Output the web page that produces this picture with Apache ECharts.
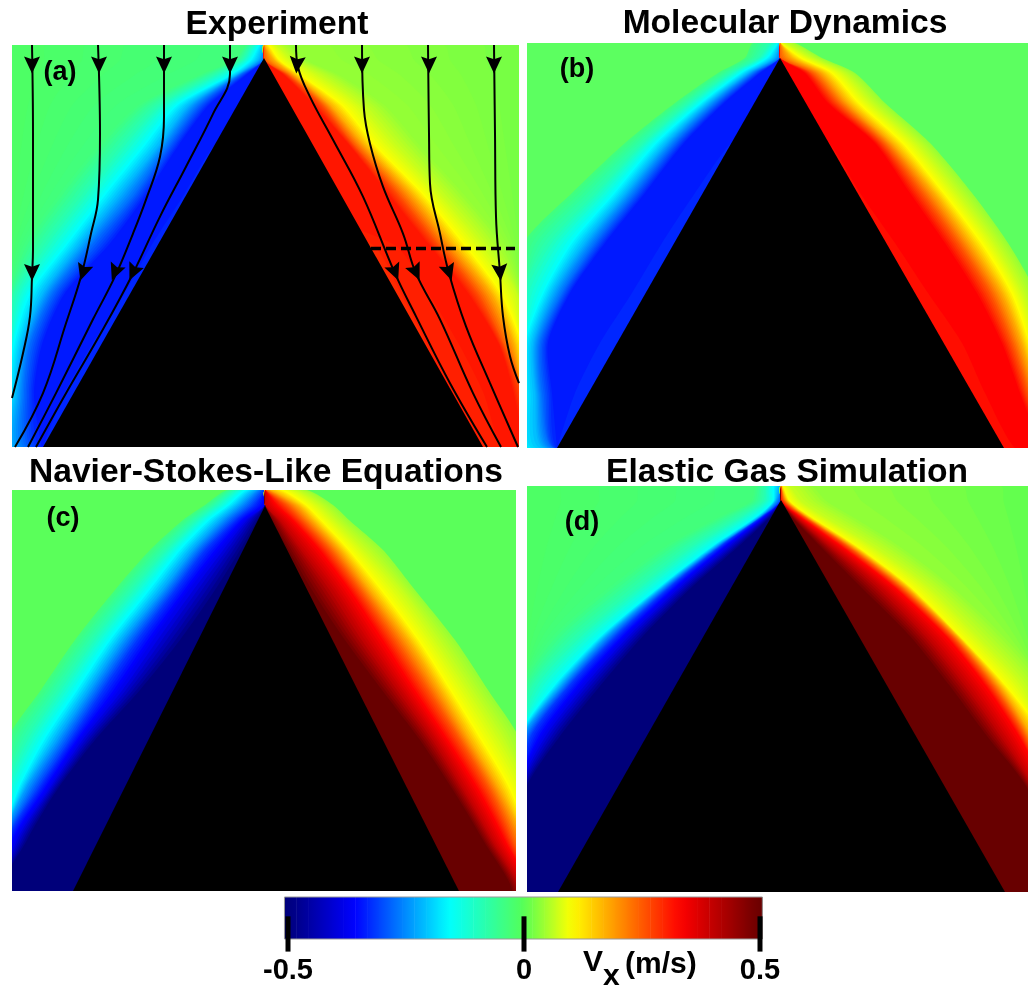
<!DOCTYPE html>
<html><head><meta charset="utf-8">
<script src="https://cdn.jsdelivr.net/npm/echarts@6/dist/echarts.min.js"></script>
<style>html,body{margin:0;padding:0;background:#fff}#c{width:1028px;height:985px}</style></head>
<body><div id="c"></div>
<script>
// rows below each panel's top at which the contour half-widths are read
const rows = [0,15,30,60,100,150,200,250,300,350,405];
// colour scale of Vx (m/s)
const scaleValues = [-0.5,-0.36,-0.16,0,0.1,0.33,0.5];
const scaleColors = ['#00007a','#0000ff','#00ffff','#55ff55','#ffff00','#ff0000','#680000'];
// contour levels: [Vx, distance from the wedge axis at each row, optional inner distance]
const aLeft = [
 [-0.015,[258,258,258,258,258,258,258,258,258,258,258]],
 [-0.04,[18,30,65,125,165,205,240,256,256,256,256]],
 [-0.09,[12,22,50,105,142,182,220,250,256,256,256]],
 [-0.16,[5,14,34,88,121,161,199,236,251,256,256]],
 [-0.22,[0,6,28,75,105,145,185,222,242,248,250]],
 [-0.28,[0,0,24,65,95,130,172,212,234,240,235]],
 [-0.34,[0,0,18,55,85,118,155,200,222,230,222],[0,0,0,0,49,80,112,140,172,200,222]]];
const aRight = [
 [0.02,[258,258,258,258,258,258,258,258,258,258,258]],
 [0.04,[25,42,75,120,155,200,240,258,258,258,258]],
 [0.07,[12,28,55,97,132,178,220,253,258,258,258]],
 [0.10,[5,16,37,79,112,161,202,239,258,258,258]],
 [0.18,[0,10,30,66,100,148,188,228,250,258,258]],
 [0.26,[0,0,24,58,90,135,175,215,240,258,258]],
 [0.31,[0,0,20,50,85,125,165,205,235,250,258],[0,0,0,0,0,0,130,165,195,220,238]]];
const bLeft = [
 [-0.04,[27,35,62,105,155,208,256,258,258,258,258]],
 [-0.09,[10,22,50,92,138,185,232,258,258,258,258]],
 [-0.16,[2,14,40,80,125,167,210,238,256,258,258]],
 [-0.22,[0,6,32,72,114,155,196,228,247,245,236]],
 [-0.28,[0,0,26,64,105,145,185,218,240,238,226]],
 [-0.34,[0,0,20,56,96,135,175,210,232,228,223],[0,0,0,0,49,85,118,148,180,205,223]]];
const bRight = [
 [0.04,[15,42,75,105,150,192,228,255,258,258,258]],
 [0.07,[5,32,64,92,137,178,215,243,258,258,258]],
 [0.10,[0,22,53,80,124,165,203,233,250,258,258]],
 [0.18,[0,12,42,68,112,154,190,222,242,255,258]],
 [0.26,[0,0,32,58,103,142,178,210,232,248,258]],
 [0.33,[0,0,25,48,95,130,165,197,222,240,258],[0,0,0,0,49,80,115,148,182,205,235]]];
const cLeft = [
 [-0.04,[38,60,82,115,150,190,224,258,262,262,262]],
 [-0.09,[30,50,70,100,134,173,207,240,262,262,262]],
 [-0.16,[20,38,58,87,118,157,190,223,248,262,262]],
 [-0.24,[8,25,43,72,102,142,175,208,240,262,262]],
 [-0.32,[0,12,30,60,90,128,162,195,228,258,262]],
 [-0.38,[0,0,20,45,76,112,146,185,218,250,262]],
 [-0.5,[0,0,8,25,50,85,125,170,208,238,262]]];
const cRight = [
 [0.04,[42,68,84,118,150,190,223,255,262,262,262]],
 [0.07,[30,55,70,100,136,172,205,237,262,262,262]],
 [0.10,[18,42,57,85,118,155,187,218,247,262,262]],
 [0.18,[5,32,47,75,105,143,175,205,235,258,262]],
 [0.26,[0,22,37,65,95,130,163,195,225,248,262]],
 [0.33,[0,12,28,55,85,118,150,183,214,240,262]],
 [0.40,[0,0,15,38,68,100,135,170,200,228,254]],
 [0.5,[0,0,7,24,47,80,117,155,188,218,245]]];
const dLeft = [
 [-0.015,[258,258,258,258,258,258,258,258,258,262,262]],
 [-0.04,[25,30,60,115,170,228,260,262,262,262,262]],
 [-0.09,[15,18,40,90,142,203,248,262,262,262,262]],
 [-0.16,[8,8,24,69,121,181,228,262,262,262,262]],
 [-0.24,[0,5,20,64,116,174,220,258,262,262,262]],
 [-0.32,[0,0,18,60,110,165,212,250,262,262,262]],
 [-0.38,[0,0,15,54,102,155,200,238,262,262,262]],
 [-0.5,[0,0,10,42,88,138,181,221,254,262,262]]];
const dRight = [
 [0.008,[258,258,258,258,258,258,258,258,258,262,262]],
 [0.04,[30,45,70,118,170,222,262,262,262,262,262]],
 [0.07,[8,20,42,92,147,197,243,262,262,262,262]],
 [0.10,[2,9,29,76,129,179,226,262,262,262,262]],
 [0.18,[0,6,25,71,124,176,219,250,262,262,262]],
 [0.26,[0,3,22,66,118,171,212,244,262,262,262]],
 [0.33,[0,0,18,60,112,165,205,238,262,262,262]],
 [0.40,[0,0,14,50,98,147,187,222,252,262,262]],
 [0.5,[0,0,10,39,79,129,169,206,245,262,262]]];
// wedge outlines
const aWedge = [[0,13],[-221,403],[219,403]];
const bWedge = [[0,15],[-223,405],[224,405]];
const cWedge = [[0,16],[-192,401],[194,401]];
const dWedge = [[0,14],[-223,406],[224,406]];
// streamlines of panel (a)
const stream1 = [[-232,0],[-231,89],[-231,205],[-232,232],[-234,272],[-241,309],[-252,354]];
const stream2 = [[-166,0],[-164,89],[-166,155],[-173,189],[-183,232],[-198,279],[-221,349],[-249,403]];
const stream3 = [[-100,0],[-100,72],[-104,112],[-118,155],[-131,189],[-149,232],[-171,275],[-208,349],[-236,403]];
const stream4 = [[-34,0],[-34,29],[-51,69],[-78,122],[-104,172],[-131,229],[-161,285],[-198,349],[-228,403]];
const stream5 = [[32,0],[34,22],[46,52],[69,95],[99,152],[131,229],[152,272],[186,339],[223,403]];
const stream6 = [[98,0],[100,65],[106,99],[119,142],[139,189],[152,229],[176,275],[209,349],[237,403]];
const stream7 = [[164,0],[165,89],[166,139],[176,189],[185,229],[202,282],[226,339],[254,403]];
const stream8 = [[230,0],[231,89],[232,172],[236,229],[239,272],[246,312],[255,339]];
const arrows = [[-232,20,0],[-165,20,0],[-100,20,0],[-34,20,0],[33,20,-5],[98,20,0],[165,20,0],[230,20,0],
 [-232,228,0],[-181,228,-18],[-149,228,-22],[-131,228,-25],[131,228,22],[152,228,25],[185,228,18],[236,228,5]];
const dashLine = [[107,204],[251,204]];
// colour bar
const barCells = [-0.495,-0.47,-0.445,-0.42,-0.395,-0.37,-0.345,-0.32,-0.295,-0.27,-0.245,-0.22,-0.195,-0.17,-0.145,-0.12,-0.095,-0.07,-0.045,-0.02,0.005,0.03,0.055,0.08,0.105,0.13,0.155,0.18,0.205,0.23,0.255,0.28,0.305,0.33,0.355,0.38,0.405,0.43,0.455,0.48,0.4925];
const barTicks = [-0.5,0,0.5];
const titles = ['Experiment','Molecular Dynamics','Navier-Stokes-Like Equations','Elastic Gas Simulation'];
const panelLabels = ['(a)','(b)','(c)','(d)'];

function cmap(v){
  for(let i=0;i<scaleValues.length-1;i++){
    if(v<=scaleValues[i+1]){
      const t=Math.max(0,(v-scaleValues[i])/(scaleValues[i+1]-scaleValues[i]));
      return echarts.color.lerp(t,[scaleColors[i],scaleColors[i+1]]);
    }
  }
  return scaleColors[scaleColors.length-1];
}
const FONT='"Liberation Sans", Arial, sans-serif';
const SHADES=6; // colour steps used to shade between two read contours
const panels=[
 {left:12,top:45,width:507,height:402,xMin:-252,xMax:255,yMax:403,L:aLeft,R:aRight,W:aWedge,bg:'#62f26a'},
 {left:527,top:43,width:501,height:405,xMin:-253,xMax:248,yMax:405,L:bLeft,R:bRight,W:bWedge,bg:'#5cff60'},
 {left:12,top:490,width:504,height:401,xMin:-253,xMax:251,yMax:401,L:cLeft,R:cRight,W:cWedge,bg:'#5aff5a'},
 {left:527,top:486,width:501,height:406,xMin:-254,xMax:247,yMax:406,L:dLeft,R:dRight,W:dWedge,bg:'#52ff68'}];
const grid=[],xAxis=[],yAxis=[],series=[];
const zeros=rows.map(()=>0);
function mix(a,b,t){return a+(b-a)*t;}
panels.forEach((p,k)=>{
  grid.push({left:p.left,top:p.top,width:p.width,height:p.height,show:true,backgroundColor:p.bg,borderWidth:0});
  xAxis.push({type:'value',gridIndex:k,min:p.xMin,max:p.xMax,show:false});
  yAxis.push({type:'value',gridIndex:k,min:0,max:p.yMax,inverse:true,show:false});
  const bands=[...p.L.map((l,i)=>({l,prev:p.L[i-1],s:-1})),...p.R.map((l,i)=>({l,prev:p.R[i-1],s:1}))];
  series.push({type:'custom',xAxisIndex:k,yAxisIndex:k,clip:true,silent:true,z:2,
    data:bands.map(b=>b.l[0]),
    encode:{x:[],y:[]},
    renderItem(params,api){
      const b=bands[params.dataIndex],children=[];
      const n=b.prev?SHADES:1;
      for(let j=1;j<=n;j++){
        const t=j/n,pts=[];
        const outA=b.prev?b.prev[1]:b.l[1],inA=b.prev&&b.prev[2]||zeros,inB=b.l[2]||zeros;
        const va=b.prev?b.prev[0]:b.l[0];
        rows.forEach((y,i)=>pts.push(api.coord([b.s*mix(outA[i],b.l[1][i],t),y])));
        for(let i=rows.length-1;i>=0;i--)pts.push(api.coord([b.s*mix(inA[i],inB[i],t),rows[i]]));
        children.push({type:'polygon',shape:{points:pts,smooth:0.25},style:{fill:cmap(mix(va,b.l[0],t))}});
      }
      return {type:'group',children};
    }});
  series.push({type:'custom',xAxisIndex:k,yAxisIndex:k,clip:true,silent:true,z:3,
    data:[0],encode:{x:[],y:[]},
    renderItem(params,api){
      return {type:'polygon',shape:{points:p.W.map(q=>api.coord(q))},style:{fill:'#000'}};
    }});
});
[stream1,stream2,stream3,stream4,stream5,stream6,stream7,stream8].forEach(s=>{
  series.push({type:'line',xAxisIndex:0,yAxisIndex:0,data:s,smooth:0.4,showSymbol:false,silent:true,z:5,
    lineStyle:{color:'#000',width:2}});
});
series.push({type:'line',xAxisIndex:0,yAxisIndex:0,data:dashLine,showSymbol:false,silent:true,z:5,
  lineStyle:{color:'#000',width:3.5,type:[10,5]}});
series.push({type:'scatter',xAxisIndex:0,yAxisIndex:0,silent:true,z:6,
  symbol:'path://M-8,-9 L0,-6 L8,-9 L0,9 Z',symbolSize:[16,17],itemStyle:{color:'#000',opacity:1},
  data:arrows.map(a=>({value:[a[0],a[1]],symbolRotate:a[2]}))});
// colour bar
grid.push({left:288,top:897,width:472,height:46});
xAxis.push({type:'value',gridIndex:4,min:-0.5,max:0.5,interval:0.5,offset:14,
  axisLine:{show:false},splitLine:{show:false},axisTick:{show:false},
  axisLabel:{show:true,color:'#000',fontFamily:FONT,fontWeight:'bold',fontSize:29,margin:3,
    formatter:v=>barTicks.includes(v)?String(v):''}});
yAxis.push({type:'value',gridIndex:4,min:0,max:1,show:false});
series.push({type:'custom',xAxisIndex:4,yAxisIndex:4,clip:false,silent:true,z:2,
  data:barCells.map(v=>[v]),encode:{x:0,y:[]},
  renderItem(params,api){
    const v=api.value(0),a=api.coord([v-0.0125,1]),b=api.coord([v+0.0125,0]);
    return {type:'rect',shape:{x:a[0],y:a[1],width:b[0]-a[0]+0.5,height:b[1]-a[1]},
      style:{fill:new echarts.graphic.LinearGradient(0,0,1,0,[{offset:0,color:cmap(v-0.0125)},{offset:1,color:cmap(v+0.0125)}])}};
  }});
series.push({type:'custom',xAxisIndex:4,yAxisIndex:4,clip:false,silent:true,z:3,
  data:[[-0.5075,0.505]],encode:{x:[0,1],y:[]},
  renderItem(params,api){
    const a=api.coord([api.value(0),1]),b=api.coord([api.value(1),0]);
    return {type:'rect',shape:{x:a[0],y:a[1],width:b[0]-a[0],height:b[1]-a[1]},style:{fill:'none',stroke:'#999',lineWidth:1}};
  }});
series.push({type:'custom',xAxisIndex:4,yAxisIndex:4,clip:false,silent:true,z:4,
  data:barTicks.map(v=>[v]),encode:{x:0,y:[]},
  renderItem(params,api){
    const a=api.coord([api.value(0),0.54]),b=api.coord([api.value(0),-0.3]);
    return {type:'rect',shape:{x:a[0]-2.5,y:a[1],width:5,height:b[1]-a[1]},style:{fill:'#000'}};
  }});
const titleCentres=[[277,8],[785,7],[266,456],[787,456]];
const labelPos=[[60,73],[577,70],[63,519],[582,523]];
const option={
  animation:false,backgroundColor:'#fff',grid,xAxis,yAxis,series,
  title:titles.map((t,i)=>({text:t,left:titleCentres[i][0],top:titleCentres[i][1],textAlign:'center',padding:0,
    textStyle:{fontFamily:FONT,fontWeight:'bold',fontSize:33.6,color:'#000'}})),
  graphic:[
    ...panelLabels.map((t,i)=>({type:'text',x:labelPos[i][0],y:labelPos[i][1],z:20,
      style:{text:t,fill:'#000',font:'bold 27px '+FONT,textAlign:'center',textVerticalAlign:'middle'}})),
    {type:'text',x:583,y:948,z:20,style:{text:'V',fill:'#000',font:'bold 30px '+FONT}},
    {type:'text',x:603,y:962,z:20,style:{text:'x',fill:'#000',font:'bold 30px '+FONT}},
    {type:'text',x:625,y:950,z:20,style:{text:'(m/s)',fill:'#000',font:'bold 30px '+FONT}}
  ]
};
echarts.init(document.getElementById('c'),null,{renderer:'canvas'}).setOption(option);
</script></body></html>
